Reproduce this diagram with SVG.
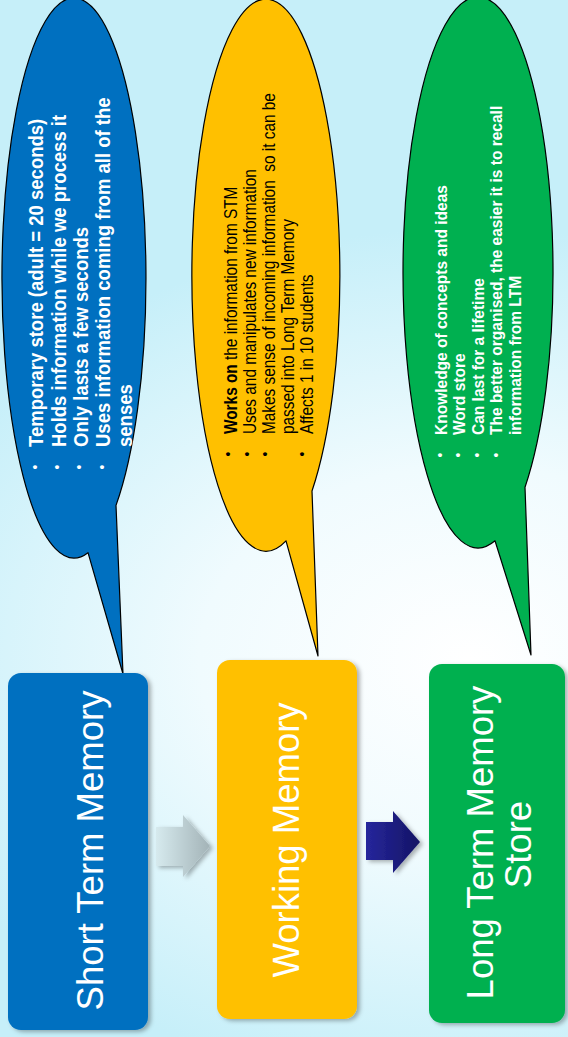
<svg xmlns="http://www.w3.org/2000/svg" width="568" height="1037" viewBox="0 0 568 1037">
  <defs>
    <style>
      .box-text { font-family: "Liberation Sans", Arial, sans-serif; font-size: 36.5px; fill: #ffffff; text-anchor: middle; }
      .callout { stroke: #000000; stroke-width: 1.2; stroke-linejoin: round; }
      .tb { font-family: "Liberation Sans", Arial, sans-serif; font-size: 19.5px; font-weight: bold; fill: #ffffff; }
      .ty { font-family: "Liberation Sans", Arial, sans-serif; font-size: 19px; fill: #000000; white-space: pre; }
      .tg { font-family: "Liberation Sans", Arial, sans-serif; font-size: 16px; font-weight: bold; fill: #ffffff; }
      .bul { font-family: "Liberation Sans", Arial, sans-serif; font-size: 14px; text-anchor: middle; }
    </style>
    <radialGradient id="bg" gradientUnits="userSpaceOnUse" cx="470" cy="660" r="600" gradientTransform="translate(470 660) scale(1 0.72) translate(-470 -660)">
      <stop offset="0" stop-color="#ffffff"/>
      <stop offset="0.45" stop-color="#f0fbfe"/>
      <stop offset="1" stop-color="#c6eff9"/>
    </radialGradient>
    <linearGradient id="greyArrow" gradientUnits="userSpaceOnUse" x1="156" y1="0" x2="210" y2="0">
      <stop offset="0" stop-color="#d6eaee"/>
      <stop offset="1" stop-color="#a3b3b7"/>
    </linearGradient>
    <linearGradient id="navyArrow" gradientUnits="userSpaceOnUse" x1="366" y1="0" x2="420" y2="0">
      <stop offset="0" stop-color="#26269c"/>
      <stop offset="1" stop-color="#141464"/>
    </linearGradient>
    <filter id="shadow" x="-10%" y="-10%" width="125%" height="125%">
      <feDropShadow dx="3" dy="2" stdDeviation="2" flood-color="#000000" flood-opacity="0.3"/>
    </filter>
  </defs>

  <!-- backdrop -->
  <rect x="0" y="0" width="568" height="1037" fill="url(#bg)"/>

  <!-- speech bubble for short term memory -->
  <g id="stm-callout">
    <path class="callout" fill="#0070c0" d="M 88 552.7 L 123 674 L 116 505.4 A 72 280 0 1 0 88 552.7 Z"/>
    <text class="bul" fill="#ffffff" transform="translate(40 467) rotate(-90)">•</text>
    <text class="bul" fill="#ffffff" transform="translate(62.3 467) rotate(-90)">•</text>
    <text class="bul" fill="#ffffff" transform="translate(84.3 467) rotate(-90)">•</text>
    <text class="bul" fill="#ffffff" transform="translate(106.7 467) rotate(-90)">•</text>
    <text class="tb" transform="translate(43.3 447) rotate(-90) scale(0.95 1)">Temporary store (adult = 20 seconds)</text>
    <text class="tb" transform="translate(65.7 447) rotate(-90) scale(0.95 1)">Holds information while we process it</text>
    <text class="tb" transform="translate(88 447) rotate(-90) scale(0.95 1)">Only lasts a few seconds</text>
    <text class="tb" transform="translate(109.5 447) rotate(-90) scale(0.95 1)">Uses information coming from all of the</text>
    <text class="tb" transform="translate(131.5 447) rotate(-90) scale(0.95 1)">senses</text>
  </g>

  <!-- speech bubble for working memory -->
  <g id="wm-callout">
    <path class="callout" fill="#ffc000" d="M 286 540.8 L 318 656 L 312 491 A 74 276 0 1 0 286 540.8 Z"/>
    <text class="bul" fill="#000000" transform="translate(233 454) rotate(-90)">•</text>
    <text class="bul" fill="#000000" transform="translate(251.5 454) rotate(-90)">•</text>
    <text class="bul" fill="#000000" transform="translate(269.5 454) rotate(-90)">•</text>
    <text class="bul" fill="#000000" transform="translate(307 454) rotate(-90)">•</text>
    <text class="ty" transform="translate(237 434) rotate(-90) scale(0.81 1)"><tspan font-weight="bold">Works on</tspan> the information from STM</text>
    <text class="ty" transform="translate(256 434) rotate(-90) scale(0.81 1)">Uses and manipulates new information</text>
    <text class="ty" transform="translate(275 434) rotate(-90) scale(0.81 1)">Makes sense of incoming information  so it can be</text>
    <text class="ty" transform="translate(294 434) rotate(-90) scale(0.81 1)">passed into Long Term Memory</text>
    <text class="ty" transform="translate(313 434) rotate(-90) scale(0.81 1)">Affects 1 in 10 students</text>
  </g>

  <!-- speech bubble for long term memory -->
  <g id="ltm-callout">
    <path class="callout" fill="#00b050" d="M 495 540.8 L 531 655 L 525 487.2 A 75 275.5 0 1 0 495 540.8 Z"/>
    <text class="bul" fill="#ffffff" transform="translate(445 455) rotate(-90)">•</text>
    <text class="bul" fill="#ffffff" transform="translate(463 455) rotate(-90)">•</text>
    <text class="bul" fill="#ffffff" transform="translate(482 455) rotate(-90)">•</text>
    <text class="bul" fill="#ffffff" transform="translate(501 455) rotate(-90)">•</text>
    <text class="tg" transform="translate(446.7 435) rotate(-90) scale(0.97 1)">Knowledge of concepts and ideas</text>
    <text class="tg" transform="translate(465 435) rotate(-90) scale(0.97 1)">Word store</text>
    <text class="tg" transform="translate(483.5 435) rotate(-90) scale(0.97 1)">Can last for a lifetime</text>
    <text class="tg" transform="translate(502 435) rotate(-90) scale(0.97 1)">The better organised, the easier it is to recall</text>
    <text class="tg" transform="translate(520.5 435) rotate(-90) scale(0.97 1)">information from LTM</text>
  </g>

  <!-- memory stage boxes -->
  <g id="stm-box">
    <rect x="8" y="673" width="140" height="357" rx="13" fill="#0070c0" filter="url(#shadow)"/>
    <text class="box-text" transform="translate(103 850.5) rotate(-90)">Short Term Memory</text>
  </g>
  <g id="wm-box">
    <rect x="217" y="660" width="140" height="359" rx="13" fill="#ffc000" filter="url(#shadow)"/>
    <text class="box-text" transform="translate(298.5 840) rotate(-90)">Working Memory</text>
  </g>
  <g id="ltm-box">
    <rect x="429" y="664" width="136" height="359" rx="13" fill="#00b050" filter="url(#shadow)"/>
    <text class="box-text" transform="translate(493 842.5) rotate(-90)">Long Term Memory</text>
    <text class="box-text" transform="translate(531 844.5) rotate(-90)">Store</text>
  </g>

  <!-- flow arrows between the stages -->
  <g id="connectors">
    <polygon points="156,827 183,827 183,815 210,846 183,877 183,866 156,866" fill="url(#greyArrow)" filter="url(#shadow)"/>
    <polygon points="366,822 393,822 393,811 420,842 393,873 393,860 366,860" fill="url(#navyArrow)" filter="url(#shadow)"/>
  </g>
</svg>
